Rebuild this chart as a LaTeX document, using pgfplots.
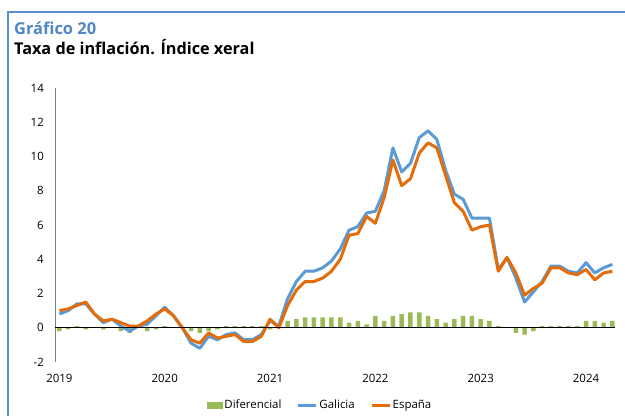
\documentclass[border=0pt]{standalone}
\usepackage{pgfplots}
\pgfplotsset{compat=1.18}
\usepackage{pgfplotstable}
\usepackage{fontspec}
\setmainfont{Open Sans}
\definecolor{galblue}{HTML}{5B9BD5}
\definecolor{esporange}{HTML}{E46C0A}
\definecolor{difgreen}{HTML}{9BBB59}
\definecolor{frameblue}{HTML}{5B8FD0}
\definecolor{titblue}{HTML}{4F86C6}
\definecolor{axgray}{HTML}{808080}

\pgfplotstableread{
idx gal esp dif
0 0.8 1.0 -0.2
1 1.0 1.1 -0.1
2 1.4 1.3 0.1
3 1.4 1.5 -0.1
4 0.8 0.8 0.0
5 0.3 0.4 -0.1
6 0.5 0.5 0.0
7 0.1 0.3 -0.2
8 -0.2 0.1 -0.3
9 0.1 0.1 0.0
10 0.2 0.4 -0.2
11 0.7 0.8 -0.1
12 1.2 1.1 0.1
13 0.7 0.7 0.0
14 0.0 0.0 0.0
15 -0.9 -0.7 -0.2
16 -1.2 -0.9 -0.3
17 -0.5 -0.3 -0.2
18 -0.7 -0.6 -0.1
19 -0.4 -0.5 0.1
20 -0.3 -0.4 0.1
21 -0.7 -0.8 0.1
22 -0.7 -0.8 0.1
23 -0.4 -0.5 0.1
24 0.4 0.5 -0.1
25 0.1 0.0 0.1
26 1.7 1.3 0.4
27 2.7 2.2 0.5
28 3.3 2.7 0.6
29 3.3 2.7 0.6
30 3.5 2.9 0.6
31 3.9 3.3 0.6
32 4.6 4.0 0.6
33 5.7 5.4 0.3
34 5.9 5.5 0.4
35 6.7 6.5 0.2
36 6.8 6.1 0.7
37 8.0 7.6 0.4
38 10.5 9.8 0.7
39 9.1 8.3 0.8
40 9.6 8.7 0.9
41 11.1 10.2 0.9
42 11.5 10.8 0.7
43 11.0 10.5 0.5
44 9.2 8.9 0.3
45 7.8 7.3 0.5
46 7.5 6.8 0.7
47 6.4 5.7 0.7
48 6.4 5.9 0.5
49 6.4 6.0 0.4
50 3.4 3.3 0.1
51 4.1 4.1 0.0
52 2.9 3.2 -0.3
53 1.5 1.9 -0.4
54 2.1 2.3 -0.2
55 2.7 2.6 0.1
56 3.6 3.5 0.1
57 3.6 3.5 0.1
58 3.3 3.2 0.1
59 3.2 3.1 0.1
60 3.8 3.4 0.4
61 3.2 2.8 0.4
62 3.5 3.2 0.3
63 3.7 3.3 0.4
}\data

\begin{document}
\begin{tikzpicture}
\useasboundingbox (0,0) rectangle (625bp,416bp);
\draw[frameblue, line width=1.5bp] (8bp,-2bp) -- (8bp,404bp) -- (630bp,404bp);
\node[anchor=base west, inner sep=0pt, text=titblue, font=\bfseries\fontsize{16.5}{18}\selectfont] at (14bp,381bp) {Gráfico 20};
\node[anchor=base west, inner sep=0pt, font=\bfseries\fontsize{16.3}{18}\selectfont] at (14bp,361bp) {Taxa de inflación. Índice xeral};
\begin{axis}[
  at={(55bp,54bp)}, anchor=south west,
  width=560bp, height=274bp, scale only axis,
  xmin=-0.5, xmax=63.3, ymin=-2, ymax=14,
  axis x line*=bottom, axis y line*=left,
  x axis line style={draw=none},
  y axis line style={draw=axgray, line width=0.8bp, -},
  major tick length=0pt,
  ytick={-2,0,2,4,6,8,10,12,14},
  xtick={0,12,24,36,48,60},
  xticklabels={2019,2020,2021,2022,2023,2024},
  ticklabel style={font=\fontsize{11.5}{13}\selectfont, text=black},
  /pgf/number format/assume math mode=true,
  yticklabel style={inner sep=0pt, anchor=east, xshift=-11bp},
  xticklabel style={inner sep=0pt, anchor=north, yshift=-11.5bp},
  legend style={at={(0.473,-0.157)}, anchor=center, draw=none, fill=none,
    legend columns=3, font=\fontsize{11.5}{13}\selectfont,
    /tikz/every even column/.append style={column sep=14bp},
    nodes={inner sep=1.5bp}},
  clip=false,
]
\addplot[ybar, bar width=4.5bp, fill=difgreen, draw=none,
  legend image code/.code={\fill[difgreen] (0bp,-3.5bp) rectangle (16bp,3.5bp);}]
  table[x=idx, y=dif] {\data};
\addlegendentry{Diferencial}
\addplot[galblue, line width=3bp, line join=round,
  legend image code/.code={\draw[galblue, line width=3bp] (0bp,0bp) -- (18bp,0bp);}]
  table[x=idx, y=gal] {\data};
\addlegendentry{Galicia}
\addplot[esporange, line width=3bp, line join=round,
  legend image code/.code={\draw[esporange, line width=3bp] (0bp,0bp) -- (18bp,0bp);}]
  table[x=idx, y=esp] {\data};
\addlegendentry{España}
\draw[black, line width=0.8bp] (axis cs:-0.5,0) -- (axis cs:63.3,0);
\end{axis}
\end{tikzpicture}
\end{document}
